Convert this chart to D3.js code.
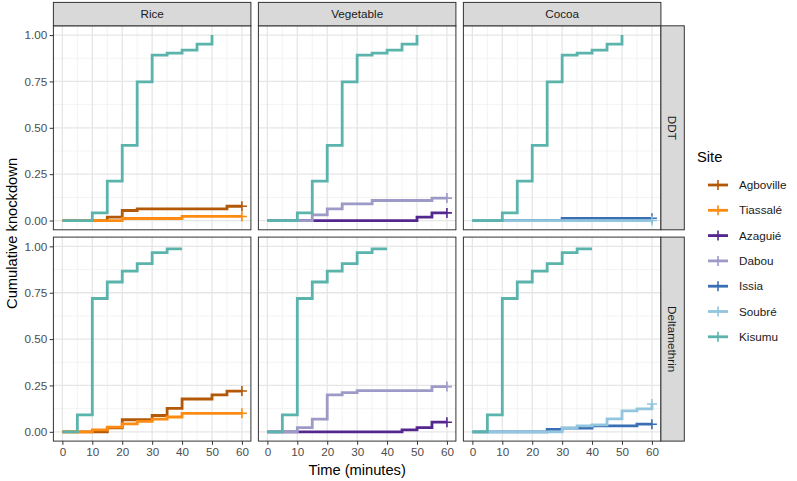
<!DOCTYPE html>
<html>
<head>
<meta charset="utf-8">
<script src="https://cdn.jsdelivr.net/npm/d3@7"></script>
<style>
  body { margin: 0; background: #fff; }
  svg { font-family: "Liberation Sans", Arial, sans-serif; }
</style>
</head>
<body>
<div id="chart"></div>
<script>
// facets
const crops = ["Rice", "Vegetable", "Cocoa"];
const insecticides = ["DDT", "Deltamethrin"];
const sites = ["Agboville", "Tiassalé", "Azaguié", "Dabou", "Issia", "Soubré", "Kisumu"];
const siteColors = ["#b35806", "#fd8b12", "#54278f", "#9e9ac8", "#3b6fb3", "#92c5de", "#5ab4ac"];

// ticks
const xTicks = [0, 10, 20, 30, 40, 50, 60];
const yTicks = [0, 0.25, 0.5, 0.75, 1];

// step curves: [time, cumulative knockdown]
const kisumuDDT = [[0,0],[10,0.041],[15,0.213],[20,0.405],[25,0.748],[30,0.892],[35,0.903],[40,0.919],[45,0.951],[50,1.0]];
const kisumuDelta = [[0,0],[5,0.091],[10,0.719],[15,0.808],[20,0.867],[25,0.907],[30,0.966],[35,0.987],[40,0.987]];

const agbovilleDDT = [[0,0],[15,0.018],[20,0.054],[25,0.063],[55,0.077],[60,0.077]];
const tiassaleDDT = [[0,0],[20,0.011],[40,0.022],[60,0.022]];
const azaguieDDT = [[0,0],[50,0.018],[55,0.041],[60,0.041]];
const dabouDDT = [[0,0],[15,0.031],[20,0.063],[25,0.09],[35,0.108],[55,0.121],[60,0.121]];
const issiaDDT = [[0,0],[30,0.012],[60,0.012]];
const soubreDDT = [[0,0],[60,0]];

const agbovilleDelta = [[0,0],[15,0.022],[20,0.065],[30,0.088],[35,0.127],[40,0.177],[50,0.199],[55,0.22],[60,0.22]];
const tiassaleDelta = [[0,0],[10,0.011],[15,0.025],[20,0.043],[25,0.056],[30,0.068],[35,0.08],[40,0.1],[60,0.1]];
const azaguieDelta = [[0,0],[45,0.011],[50,0.023],[55,0.052],[60,0.052]];
const dabouDelta = [[0,0],[10,0.023],[15,0.068],[20,0.199],[25,0.211],[30,0.222],[55,0.244],[60,0.244]];
const issiaDelta = [[0,0],[25,0.013],[30,0.02],[40,0.032],[55,0.041],[60,0.041]];
const soubreDelta = [[0,0],[30,0.02],[35,0.032],[40,0.038],[45,0.07],[50,0.113],[55,0.124],[60,0.15]];

// which curves go in which panel (row = insecticide, col = crop)
const curves = [
  { row: 0, col: 0, site: "Agboville", pts: agbovilleDDT },
  { row: 0, col: 0, site: "Tiassalé", pts: tiassaleDDT },
  { row: 0, col: 0, site: "Kisumu", pts: kisumuDDT },
  { row: 0, col: 1, site: "Azaguié", pts: azaguieDDT },
  { row: 0, col: 1, site: "Dabou", pts: dabouDDT },
  { row: 0, col: 1, site: "Kisumu", pts: kisumuDDT },
  { row: 0, col: 2, site: "Issia", pts: issiaDDT },
  { row: 0, col: 2, site: "Soubré", pts: soubreDDT },
  { row: 0, col: 2, site: "Kisumu", pts: kisumuDDT },
  { row: 1, col: 0, site: "Agboville", pts: agbovilleDelta },
  { row: 1, col: 0, site: "Tiassalé", pts: tiassaleDelta },
  { row: 1, col: 0, site: "Kisumu", pts: kisumuDelta },
  { row: 1, col: 1, site: "Azaguié", pts: azaguieDelta },
  { row: 1, col: 1, site: "Dabou", pts: dabouDelta },
  { row: 1, col: 1, site: "Kisumu", pts: kisumuDelta },
  { row: 1, col: 2, site: "Issia", pts: issiaDelta },
  { row: 1, col: 2, site: "Soubré", pts: soubreDelta },
  { row: 1, col: 2, site: "Kisumu", pts: kisumuDelta }
];

const width = 797, height = 481;
const panelX0 = 53.4, panelW = 197.5, gapX = 7.5;
const panelY0 = 25.8, panelH = 204, gapY = 7.3;
const stripH = 23.4;

const color = d3.scaleOrdinal().domain(sites).range(siteColors);

const svg = d3.select("#chart").append("svg")
  .attr("width", width)
  .attr("height", height);

// ggplot-like expanded scales
const x = d3.scaleLinear().domain([-3, 63]).range([0, panelW]);
const y = d3.scaleLinear().domain([-0.05, 1.05]).range([panelH, 0]);

const line = d3.line()
  .x(d => x(d[0]))
  .y(d => y(d[1]))
  .curve(d3.curveStepAfter);

const xMinor = [5, 15, 25, 35, 45, 55];
const yMinor = [0.125, 0.375, 0.625, 0.875];

insecticides.forEach((ins, r) => {
  crops.forEach((crop, c) => {
    const px = panelX0 + c * (panelW + gapX);
    const py = panelY0 + r * (panelH + gapY);
    const g = svg.append("g").attr("transform", `translate(${px},${py})`);

    // grid
    g.selectAll(".gxm").data(xMinor).enter().append("line")
      .attr("x1", d => x(d)).attr("x2", d => x(d))
      .attr("y1", 0).attr("y2", panelH)
      .attr("stroke", "#f0f0f0").attr("stroke-width", 0.8);
    g.selectAll(".gym").data(yMinor).enter().append("line")
      .attr("y1", d => y(d)).attr("y2", d => y(d))
      .attr("x1", 0).attr("x2", panelW)
      .attr("stroke", "#f0f0f0").attr("stroke-width", 0.8);
    g.selectAll(".gx").data(xTicks).enter().append("line")
      .attr("x1", d => x(d)).attr("x2", d => x(d))
      .attr("y1", 0).attr("y2", panelH)
      .attr("stroke", "#e6e6e6").attr("stroke-width", 1.3);
    g.selectAll(".gy").data(yTicks).enter().append("line")
      .attr("y1", d => y(d)).attr("y2", d => y(d))
      .attr("x1", 0).attr("x2", panelW)
      .attr("stroke", "#e6e6e6").attr("stroke-width", 1.3);

    // curves
    const here = curves.filter(d => d.row === r && d.col === c)
      .sort((a, b) => sites.indexOf(a.site) - sites.indexOf(b.site));
    here.forEach(cv => {
      g.append("path")
        .attr("d", line(cv.pts))
        .attr("fill", "none")
        .attr("stroke", color(cv.site))
        .attr("stroke-width", 2.8);
      const last = cv.pts[cv.pts.length - 1];
      if (last[0] === 60) {
        const cx = x(last[0]), cy = y(last[1]);
        g.append("path")
          .attr("d", `M${cx - 5},${cy}H${cx + 5}M${cx},${cy - 5}V${cy + 5}`)
          .attr("stroke", color(cv.site))
          .attr("stroke-width", 1.6);
      }
    });

    // border
    g.append("rect")
      .attr("width", panelW).attr("height", panelH)
      .attr("fill", "none").attr("stroke", "#333").attr("stroke-width", 1);

    // y axis on first column
    if (c === 0) {
      const ya = g.append("g").call(d3.axisLeft(y).tickValues(yTicks)
        .tickFormat(d3.format(".2f")).tickSize(3.7).tickPadding(2.5));
      ya.select(".domain").remove();
      ya.selectAll("line").attr("stroke", "#333");
      ya.selectAll("text").attr("fill", "#4d4d4d").style("font-size", "11.7px");
    }
    // x axis on bottom row
    if (r === insecticides.length - 1) {
      const xa = g.append("g").attr("transform", `translate(0,${panelH})`)
        .call(d3.axisBottom(x).tickValues(xTicks).tickSize(3.7).tickPadding(2.5));
      xa.select(".domain").remove();
      xa.selectAll("line").attr("stroke", "#333");
      xa.selectAll("text").attr("fill", "#4d4d4d").style("font-size", "11.7px");
    }
    // top strips
    if (r === 0) {
      svg.append("rect")
        .attr("x", px).attr("y", py - stripH)
        .attr("width", panelW).attr("height", stripH)
        .attr("fill", "#d9d9d9").attr("stroke", "#333").attr("stroke-width", 1);
      svg.append("text")
        .attr("x", px + panelW / 2).attr("y", py - stripH / 2)
        .attr("dy", "0.35em").attr("text-anchor", "middle")
        .attr("fill", "#1a1a1a").style("font-size", "11.7px")
        .text(crop);
    }
    // right strips
    if (c === crops.length - 1) {
      const sx = px + panelW;
      svg.append("rect")
        .attr("x", sx).attr("y", py)
        .attr("width", stripH).attr("height", panelH)
        .attr("fill", "#d9d9d9").attr("stroke", "#333").attr("stroke-width", 1);
      svg.append("text")
        .attr("transform", `translate(${sx + stripH / 2},${py + panelH / 2}) rotate(90)`)
        .attr("dy", "0.35em").attr("text-anchor", "middle")
        .attr("fill", "#1a1a1a").style("font-size", "11.7px")
        .text(ins);
    }
  });
});

// axis titles
const plotMidX = panelX0 + (3 * panelW + 2 * gapX) / 2;
const plotMidY = panelY0 + (2 * panelH + gapY) / 2;
svg.append("text")
  .attr("x", plotMidX).attr("y", 475)
  .attr("text-anchor", "middle").style("font-size", "14.7px")
  .text("Time (minutes)");
svg.append("text")
  .attr("transform", `translate(17,${plotMidY}) rotate(-90)`)
  .attr("text-anchor", "middle").style("font-size", "14.7px")
  .text("Cumulative knockdown");

// legend
const lg = svg.append("g").attr("transform", "translate(697,0)");
lg.append("text").attr("x", 0).attr("y", 162)
  .style("font-size", "14.7px").text("Site");
const keyY0 = 185, keyStep = 25.3;
sites.forEach((s, i) => {
  const ky = keyY0 + i * keyStep;
  lg.append("line")
    .attr("x1", 11).attr("x2", 31).attr("y1", ky).attr("y2", ky)
    .attr("stroke", color(s)).attr("stroke-width", 2.8);
  lg.append("path")
    .attr("d", `M16,${ky}H26M21,${ky - 5}V${ky + 5}`)
    .attr("stroke", color(s)).attr("stroke-width", 1.6);
  lg.append("text")
    .attr("x", 42).attr("y", ky).attr("dy", "0.35em")
    .attr("fill", "#1a1a1a").style("font-size", "11.7px")
    .text(s);
});
</script>
</body>
</html>
